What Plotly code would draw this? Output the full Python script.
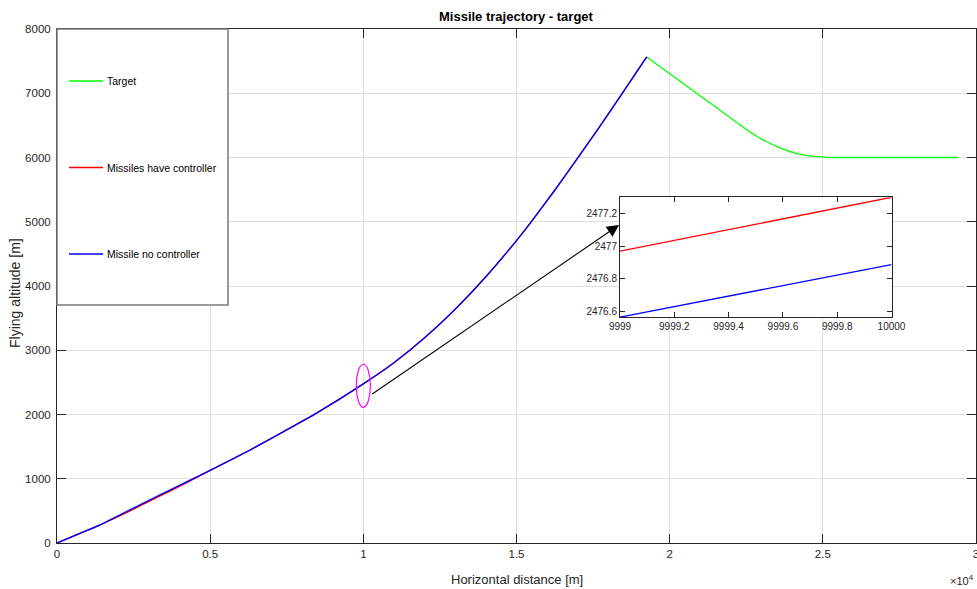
import plotly.graph_objects as go

# ---------------- data ----------------
missile_nc_x = [0, 700, 1400, 3000, 5000, 6300, 7400, 8500, 10000, 11000, 12000, 13000, 14000,
                15000, 15480, 16200, 16966, 17700, 18381, 19250]
missile_nc_y = [0, 140, 280, 665, 1130, 1447, 1735, 2030, 2477, 2806, 3194, 3640, 4144,
                4707, 4998, 5459, 5971, 6470, 6947, 7565]

missile_c_x = [0, 700, 1400, 2200, 3000, 4000, 5000, 6300, 7400, 8500, 10000, 11000, 12000, 13000,
               14000, 15000, 15480, 16200, 16966, 17700, 18381, 19250]
missile_c_y = [0, 140, 280, 455, 648, 882, 1130, 1447, 1735, 2030, 2477, 2806, 3194, 3640,
               4144, 4707, 4998, 5459, 5971, 6470, 6947, 7565]

target_x = [19250, 21000, 22000, 22600, 23100, 23600, 24100, 24600, 25100, 25600, 29416]
target_y = [7565, 6958, 6612, 6405, 6260, 6150, 6068, 6020, 6003, 6000, 6000]

inset_x = [9999, 10000]
inset_c_y = [2476.97, 2477.30]
inset_nc_y = [2476.566, 2476.888]

x_tickvals = [0, 5000, 10000, 15000, 20000, 25000, 30000]
x_ticktext = ["0", "0.5", "1", "1.5", "2", "2.5", "3"]
y_tickvals = [0, 1000, 2000, 3000, 4000, 5000, 6000, 7000, 8000]

inset_xticks = [9999, 9999.2, 9999.4, 9999.6, 9999.8, 10000]
inset_xtext = ["9999", "9999.2", "9999.4", "9999.6", "9999.8", "10000"]
inset_yticks = [2476.6, 2476.8, 2477, 2477.2]
inset_ytext = ["2476.6", "2476.8", "2477", "2477.2"]

legend_names = ["Target", "Missiles have controller", "Missile no controller"]
legend_colors = ["#00ff00", "#ff0000", "#0000ff"]

# ---------------- figure ----------------
W, H = 977, 589
ML, MR, MT, MB = 57, 1, 29, 46
PW, PH = W - ML - MR, H - MT - MB

def px2paper_x(px):
    return (px - ML) / PW

def px2paper_y(py):
    return (H - MB - py) / PH

FONT = "Liberation Sans, Arial, sans-serif"
AX = "#262626"
GRID = "#dfdfdf"

fig = go.Figure()

fig.add_trace(go.Scatter(x=target_x, y=target_y, mode="lines", name=legend_names[0],
                         line=dict(color=legend_colors[0], width=1.3, shape="spline", smoothing=0.5),
                         showlegend=False, xaxis="x", yaxis="y"))
fig.add_trace(go.Scatter(x=missile_c_x, y=missile_c_y, mode="lines", name=legend_names[1],
                         line=dict(color=legend_colors[1], width=1.3, shape="spline", smoothing=0.5),
                         showlegend=False, xaxis="x", yaxis="y"))
fig.add_trace(go.Scatter(x=missile_nc_x, y=missile_nc_y, mode="lines", name=legend_names[2],
                         line=dict(color=legend_colors[2], width=1.4, shape="spline", smoothing=0.5),
                         showlegend=False, xaxis="x", yaxis="y"))

fig.add_trace(go.Scatter(x=inset_x, y=inset_c_y, mode="lines", line=dict(color="#ff0000", width=1.3),
                         showlegend=False, xaxis="x2", yaxis="y2"))
fig.add_trace(go.Scatter(x=inset_x, y=inset_nc_y, mode="lines", line=dict(color="#0000ff", width=1.3),
                         showlegend=False, xaxis="x2", yaxis="y2"))

ix0, ix1 = px2paper_x(620), px2paper_x(891.5)
iy0, iy1 = px2paper_y(317.3), px2paper_y(197.3)

fig.update_layout(
    width=W, height=H,
    margin=dict(l=ML, r=MR, t=MT, b=MB, autoexpand=False),
    paper_bgcolor="white", plot_bgcolor="white",
    showlegend=False,
    xaxis=dict(range=[0, 30000], tickvals=x_tickvals, ticktext=x_ticktext,
               showgrid=True, gridcolor=GRID, gridwidth=1, zeroline=False,
               showline=True, linecolor=AX, linewidth=1, mirror="ticks",
               ticks="inside", ticklen=9, tickcolor=AX, tickwidth=1,
               ticklabeloverflow="allow",
               tickfont=dict(family=FONT, size=11.5, color=AX), domain=[0, 1]),
    yaxis=dict(range=[0, 8000], tickvals=y_tickvals,
               showgrid=True, gridcolor=GRID, gridwidth=1, zeroline=False,
               showline=True, linecolor=AX, linewidth=1, mirror="ticks",
               ticks="inside", ticklen=9, tickcolor=AX, tickwidth=1,
               ticklabelstandoff=3,
               tickfont=dict(family=FONT, size=11.5, color=AX), domain=[0, 1]),
    xaxis2=dict(range=[9999, 10000], tickvals=inset_xticks, ticktext=inset_xtext,
                domain=[ix0, ix1], anchor="y2", showgrid=False, zeroline=False,
                showline=True, linecolor=AX, linewidth=1, mirror="ticks",
                ticks="inside", ticklen=5, tickcolor=AX,
                tickfont=dict(family=FONT, size=10, color=AX)),
    yaxis2=dict(range=[2476.565, 2477.30], tickvals=inset_yticks, ticktext=inset_ytext,
                domain=[iy0, iy1], anchor="x2", showgrid=False, zeroline=False,
                showline=True, linecolor=AX, linewidth=1, mirror="ticks",
                ticks="inside", ticklen=5, tickcolor=AX,
                tickfont=dict(family=FONT, size=10, color=AX)),
)

shapes = []
# magnifier ellipse
shapes.append(dict(type="circle", xref="x", yref="y", x0=9770, x1=10230, y0=2112, y1=2782,
                   line=dict(color="#ff00ff", width=1.2)))
# legend box
shapes.append(dict(type="rect", xref="paper", yref="paper", layer="above",
                   x0=px2paper_x(57), x1=px2paper_x(228), y0=px2paper_y(305), y1=px2paper_y(29),
                   fillcolor="white", line=dict(color="#7a7a7a", width=1.5)))
legend_y_px = [81, 167.5, 254]
annotations = []
for name, col, ly in zip(legend_names, legend_colors, legend_y_px):
    shapes.append(dict(type="line", xref="paper", yref="paper", layer="above",
                       x0=px2paper_x(69), x1=px2paper_x(103), y0=px2paper_y(ly), y1=px2paper_y(ly),
                       line=dict(color=col, width=1.3)))
    annotations.append(dict(xref="paper", yref="paper", x=px2paper_x(105), y=px2paper_y(ly),
                            xanchor="left", yanchor="middle", text=name, showarrow=False,
                            font=dict(family=FONT, size=10.5, color="black")))

# arrow
annotations.append(dict(xref="x", yref="y", axref="x", ayref="y",
                        x=18348, y=4949, ax=10242, ay=2303, text="", showarrow=True,
                        arrowhead=2, arrowsize=2.2, arrowwidth=1.1, arrowcolor="black",
                        standoff=0, startstandoff=0))
# titles
annotations.append(dict(xref="paper", yref="paper", x=0.5, y=px2paper_y(16), xanchor="center",
                        yanchor="middle", text="<b>Missile trajectory - target</b>", showarrow=False,
                        font=dict(family=FONT, size=13, color="black")))
annotations.append(dict(xref="paper", yref="paper", x=0.5, y=px2paper_y(579), xanchor="center",
                        yanchor="middle", text="Horizontal distance [m]", showarrow=False,
                        font=dict(family=FONT, size=13, color=AX)))
annotations.append(dict(xref="paper", yref="paper", x=px2paper_x(15), y=px2paper_y(293), xanchor="center",
                        yanchor="middle", text="Flying altitude [m]", showarrow=False, textangle=-90,
                        font=dict(family=FONT, size=14, color=AX)))
annotations.append(dict(xref="paper", yref="paper", x=px2paper_x(976), y=px2paper_y(580), xanchor="right",
                        yanchor="middle", text="×10<sup>4</sup>", showarrow=False,
                        font=dict(family=FONT, size=11, color=AX)))

fig.update_layout(shapes=shapes, annotations=annotations)

fig.write_html("out.html", config={"displayModeBar": False},
               post_script="document.body.style.margin='0px';document.body.style.overflow='hidden';")
